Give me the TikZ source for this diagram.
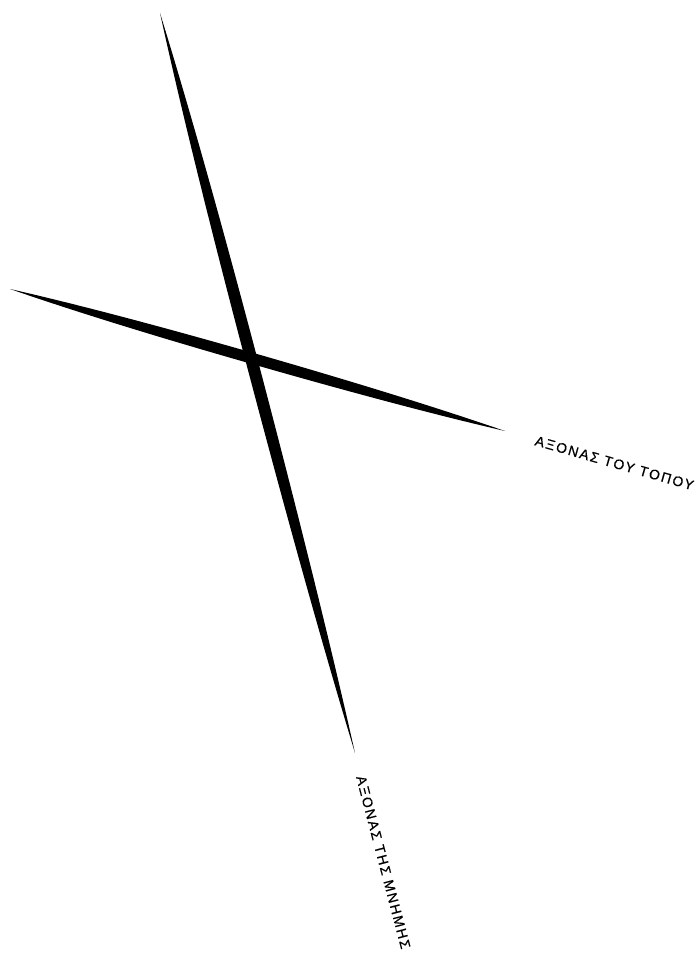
\documentclass[tikz,border=0pt]{standalone}
\usepackage{fontspec}
\newfontfamily\axisfont[LetterSpace=12, FakeBold=0.5]{Liberation Sans}
\usetikzlibrary{calc}

\begin{document}
\begin{tikzpicture}[x=1pt, y=-1pt,
      stroke/.style={fill=black, draw=none},
      lbl/.style={inner sep=0pt, anchor=base west, font=\axisfont\fontsize{14}{15}\selectfont}]
    \useasboundingbox (0,0) rectangle (699,955);
    % ends of the two axes and their crossing
    \coordinate (vtop) at (160,13);
    \coordinate (vbot) at (355,753);
    \coordinate (hleft) at (10,289);
    \coordinate (hright) at (505,431);
    \coordinate (c) at (251,358);
    % widest points and bulge points, axis of memory
    \coordinate (vs1) at ($(c)!6pt!90:(vtop)$);
    \coordinate (vs2) at ($(c)!6pt!-90:(vtop)$);
    \coordinate (vp1) at ($(c)!0.6!(vtop)!6pt!90:(vtop)$);
    \coordinate (vp2) at ($(c)!0.6!(vbot)!6pt!90:(vtop)$);
    \coordinate (vp3) at ($(c)!0.6!(vbot)!6pt!-90:(vtop)$);
    \coordinate (vp4) at ($(c)!0.6!(vtop)!6pt!-90:(vtop)$);
    % same for the axis of place
    \coordinate (hs1) at ($(c)!5.5pt!90:(hleft)$);
    \coordinate (hs2) at ($(c)!5.5pt!-90:(hleft)$);
    \coordinate (hp1) at ($(c)!0.6!(hleft)!5.5pt!90:(hleft)$);
    \coordinate (hp2) at ($(c)!0.6!(hright)!5.5pt!90:(hleft)$);
    \coordinate (hp3) at ($(c)!0.6!(hright)!5.5pt!-90:(hleft)$);
    \coordinate (hp4) at ($(c)!0.6!(hleft)!5.5pt!-90:(hleft)$);
    % axis of memory (steep)
    \fill[stroke] (vtop) .. controls ($(vtop)!2/3!(vp1)$) and ($(vs1)!2/3!(vp1)$) .. (vs1)
      .. controls ($(vs1)!2/3!(vp2)$) and ($(vbot)!2/3!(vp2)$) .. (vbot)
      .. controls ($(vbot)!2/3!(vp3)$) and ($(vs2)!2/3!(vp3)$) .. (vs2)
      .. controls ($(vs2)!2/3!(vp4)$) and ($(vtop)!2/3!(vp4)$) .. cycle;
    % axis of place (shallow)
    \fill[stroke] (hleft) .. controls ($(hleft)!2/3!(hp1)$) and ($(hs1)!2/3!(hp1)$) .. (hs1)
      .. controls ($(hs1)!2/3!(hp2)$) and ($(hright)!2/3!(hp2)$) .. (hright)
      .. controls ($(hright)!2/3!(hp3)$) and ($(hs2)!2/3!(hp3)$) .. (hs2)
      .. controls ($(hs2)!2/3!(hp4)$) and ($(hleft)!2/3!(hp4)$) .. cycle;
    % labels
    \node[lbl, rotate=-16] (place) at (534,445) {ΑΞΟΝΑΣ ΤΟΥ ΤΟΠΟΥ};
    \node[lbl, rotate=-75.3] (memory) at (356,777) {ΑΞΟΝΑΣ ΤΗΣ ΜΝΗΜΗΣ};
  \end{tikzpicture}
\end{document}
